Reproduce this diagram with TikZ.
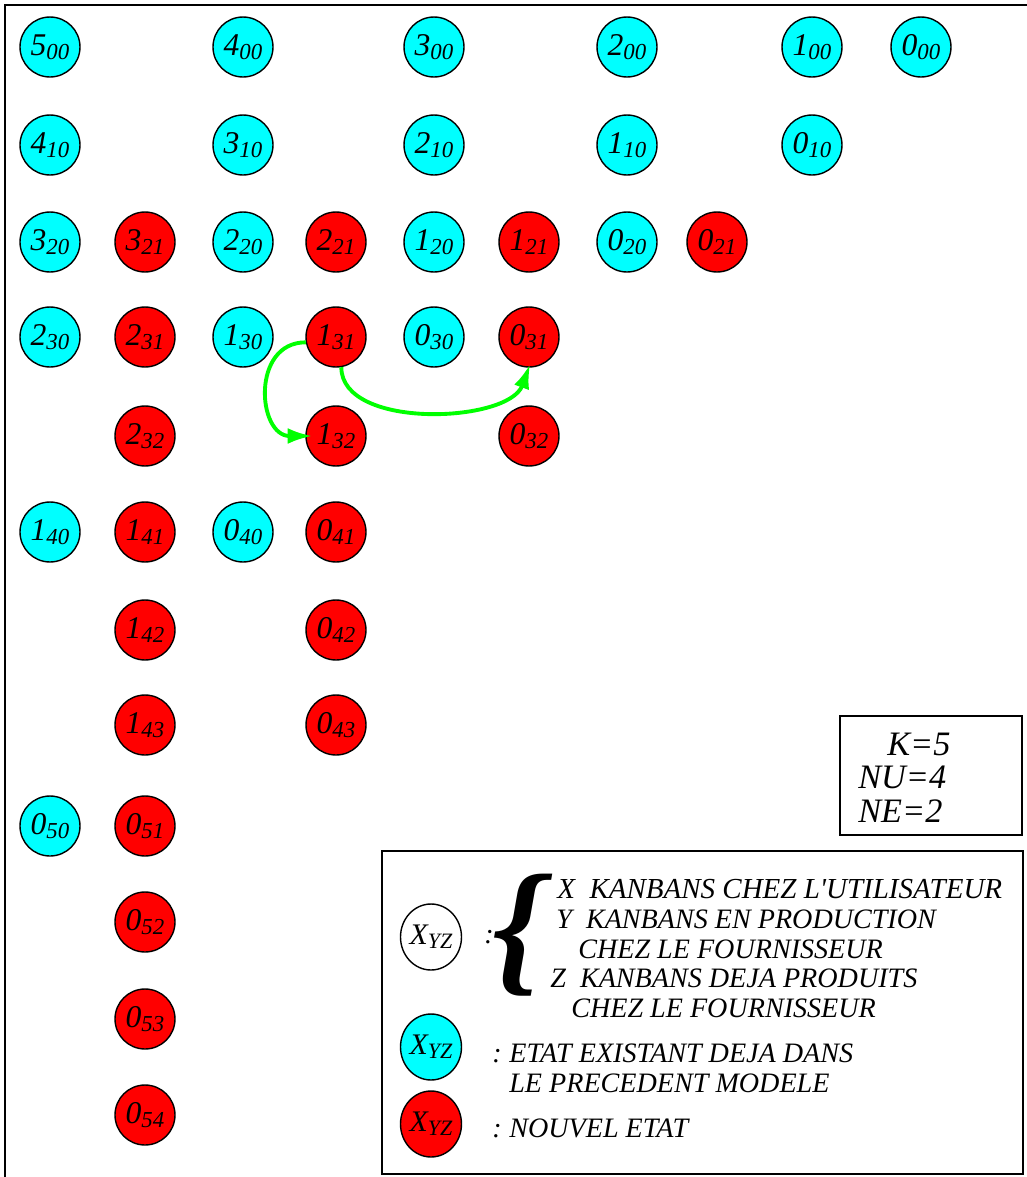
\documentclass[tikz,border=0pt]{standalone}
\usepackage{fontspec}
\setmainfont{Liberation Serif}[Ligatures=TeXOff]
\usetikzlibrary{arrows.meta,shapes.geometric}
\definecolor{cyanref}{RGB}{0,255,255}
\definecolor{rougeref}{RGB}{255,0,0}
\definecolor{vertref}{RGB}{0,255,0}
\newcommand{\etat}[2]{{\fontsize{18}{18}\selectfont #1}\raisebox{-2.5pt}{\fontsize{13}{13}\selectfont #2}}
\newcommand{\etatleg}[2]{{\fontsize{17}{17}\selectfont #1}\raisebox{-2.5pt}{\fontsize{12.5}{12.5}\selectfont #2}}
\begin{document}
\begin{tikzpicture}[x=0.02cm,y=-0.02cm,
  every node/.style={font=\itshape},
  ancien/.style={circle,draw,line width=0.8pt,fill=cyanref,minimum size=1.2cm,inner sep=0pt},
  nouveau/.style={ancien,fill=rougeref},
  legcercle/.style={ellipse,draw,line width=0.8pt,minimum width=1.22cm,minimum height=1.32cm,inner sep=0pt},
  trans/.style={draw=vertref,line width=2.2pt,-{Latex[length=14pt,width=9pt]}},
  legtxt/.style={anchor=base west,inner sep=0pt,font=\itshape\fontsize{16}{16}\selectfont},
  paramtxt/.style={anchor=base west,inner sep=0pt,font=\itshape\fontsize{19.5}{19.5}\selectfont}]
\useasboundingbox (0,0) rectangle (1027,1177);
\draw[line width=0.8pt] (5,1177) -- (5,5) -- (1027,5);
% etats a 0 kanban en production
\node (n500) at (50,47) [ancien] {\etat{5}{00}};
\node (n400) at (243,47) [ancien] {\etat{4}{00}};
\node (n300) at (434,47) [ancien] {\etat{3}{00}};
\node (n200) at (627,47) [ancien] {\etat{2}{00}};
\node (n100) at (812,47) [ancien] {\etat{1}{00}};
\node (n000) at (921,47) [ancien] {\etat{0}{00}};
\node (n410) at (50,145) [ancien] {\etat{4}{10}};
\node (n310) at (243,145) [ancien] {\etat{3}{10}};
\node (n210) at (434,145) [ancien] {\etat{2}{10}};
\node (n110) at (627,145) [ancien] {\etat{1}{10}};
\node (n010) at (812,145) [ancien] {\etat{0}{10}};
% etats a 2 kanbans en production
\node (n320) at (50,242) [ancien] {\etat{3}{20}};
\node (n321) at (145,242) [nouveau] {\etat{3}{21}};
\node (n220) at (243,242) [ancien] {\etat{2}{20}};
\node (n221) at (336,242) [nouveau] {\etat{2}{21}};
\node (n120) at (434,242) [ancien] {\etat{1}{20}};
\node (n121) at (529,242) [nouveau] {\etat{1}{21}};
\node (n020) at (627,242) [ancien] {\etat{0}{20}};
\node (n021) at (717,242) [nouveau] {\etat{0}{21}};
% etats a 3 kanbans en production
\node (n230) at (50,337) [ancien] {\etat{2}{30}};
\node (n231) at (145,337) [nouveau] {\etat{2}{31}};
\node (n130) at (243,337) [ancien] {\etat{1}{30}};
\node (n131) at (336,337) [nouveau] {\etat{1}{31}};
\node (n030) at (434,337) [ancien] {\etat{0}{30}};
\node (n031) at (529,337) [nouveau] {\etat{0}{31}};
\node (n232) at (145,436) [nouveau] {\etat{2}{32}};
\node (n132) at (336,436) [nouveau] {\etat{1}{32}};
\node (n032) at (529,436) [nouveau] {\etat{0}{32}};
% etats a 4 kanbans en production
\node (n140) at (50,532) [ancien] {\etat{1}{40}};
\node (n141) at (145,532) [nouveau] {\etat{1}{41}};
\node (n040) at (243,532) [ancien] {\etat{0}{40}};
\node (n041) at (336,532) [nouveau] {\etat{0}{41}};
\node (n142) at (145,630) [nouveau] {\etat{1}{42}};
\node (n042) at (336,630) [nouveau] {\etat{0}{42}};
\node (n143) at (145,725) [nouveau] {\etat{1}{43}};
\node (n043) at (336,725) [nouveau] {\etat{0}{43}};
% etats a 5 kanbans en production
\node (n050) at (50,826) [ancien] {\etat{0}{50}};
\node (n051) at (145,826) [nouveau] {\etat{0}{51}};
\node (n052) at (145,922) [nouveau] {\etat{0}{52}};
\node (n053) at (145,1019) [nouveau] {\etat{0}{53}};
\node (n054) at (145,1115) [nouveau] {\etat{0}{54}};
% transitions
\draw[trans] (n131.190) to[out=180,in=180,looseness=1.5] ([xshift=4pt]n132.west);
\draw[trans] (n131.-80) to[out=-90,in=-110,looseness=0.85] ([yshift=2pt]n031.-88);
% parametres
\draw[line width=0.6pt] (840,716) rectangle (1022,835);
\node (pk) at (887,755) [paramtxt] {K=5};
\node (pnu) at (858,788) [paramtxt] {NU=4};
\node (pne) at (858,822) [paramtxt] {NE=2};
% legende
\draw[line width=0.6pt] (382,851) rectangle (1023,1174);
\node (lblanc) at (431,937) [legcercle] {\etatleg{X}{YZ}};
\node (lcyan) at (431,1047) [legcercle,fill=cyanref] {\etatleg{X}{YZ}};
\node (lrouge) at (431,1124) [legcercle,fill=rougeref] {\etatleg{X}{YZ}};
\node (dp1) at (489,937) [legtxt,anchor=center] {:};
\node (acc) at (518,935) [font=\bfseries\itshape\fontsize{84}{84}\selectfont,inner sep=0pt] {\{};
\node (lx) at (557,898) [legtxt,font=\itshape\fontsize{16.5}{16.5}\selectfont] {X\ \ KANBANS CHEZ L'UTILISATEUR};
\node (ly) at (556,928) [legtxt] {Y\ \ KANBANS EN PRODUCTION};
\node (ly2) at (578,958) [legtxt] {CHEZ LE FOURNISSEUR};
\node (lz) at (550,987) [legtxt] {Z\ \ KANBANS DEJA PRODUITS};
\node (lz2) at (571,1017) [legtxt] {CHEZ LE FOURNISSEUR};
\node (dp2) at (492,1062) [legtxt] {:};
\node (lex) at (509,1062) [legtxt] {ETAT EXISTANT DEJA DANS};
\node (lex2) at (509,1092) [legtxt] {LE PRECEDENT MODELE};
\node (dp3) at (492,1137) [legtxt] {:};
\node (lnv) at (509,1137) [legtxt] {NOUVEL ETAT};
\end{tikzpicture}
\end{document}
